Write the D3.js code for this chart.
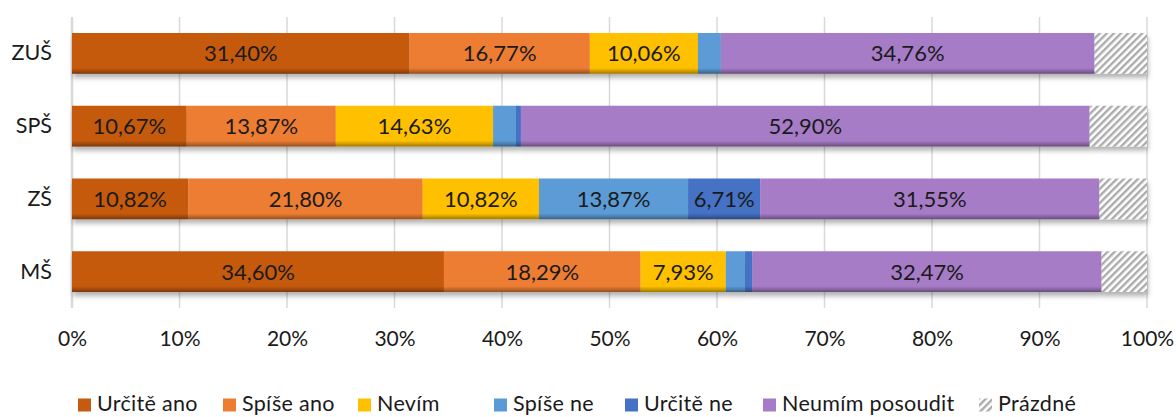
<!DOCTYPE html>
<html>
<head>
<meta charset="utf-8">
<script src="https://cdn.jsdelivr.net/npm/d3@7"></script>
<style>
  html, body { margin: 0; padding: 0; background: #fff; }
  svg { display: block; font-family: Lato, "Open Sans", sans-serif; }
</style>
</head>
<body>
<svg id="chart" width="1176" height="417"></svg>
<script>
// School types, top to bottom
const categories = ["ZUŠ", "SPŠ", "ZŠ", "MŠ"];

// Answer categories in stacking order
const seriesNames = ["Určitě ano", "Spíše ano", "Nevím", "Spíše ne", "Určitě ne", "Neumím posoudit", "Prázdné"];

// Share of answers (%) per school type, in the order of `categories`
const urciteAno   = [31.40, 10.67, 10.82, 34.60];
const spiseAno    = [16.77, 13.87, 21.80, 18.29];
const nevim       = [10.06, 14.63, 10.82,  7.93];
const spiseNe     = [ 2.13,  2.13, 13.87,  1.77];
const urciteNe    = [ 0.00,  0.46,  6.71,  0.71];
const neumimPos   = [34.76, 52.90, 31.55, 32.47];
const prazdne     = [ 4.88,  5.34,  4.43,  4.23];

const tickValues = [0, 10, 20, 30, 40, 50, 60, 70, 80, 90, 100];

const seriesValues = [urciteAno, spiseAno, nevim, spiseNe, urciteNe, neumimPos, prazdne];
const colors = ["#C55A11", "#ED7D31", "#FFC000", "#5B9BD5", "#4472C4", "#A67BC7", "url(#hatch)"];

const rows = categories.map((c, i) => {
  const o = { cat: c };
  seriesNames.forEach((s, k) => { o[s] = seriesValues[k][i]; });
  return o;
});

const svg = d3.select("#chart");
const margin = { left: 72, right: 29, top: 17, bottom: 109 };
const W = 1176, H = 417;

const x = d3.scaleLinear().domain([0, 100]).range([margin.left, W - margin.right]);
const y = d3.scaleBand().domain(categories).range([margin.top, H - margin.bottom]).paddingInner(0.44).paddingOuter(0.22);

const defs = svg.append("defs");

// Grey diagonal hatch for empty answers
const pat = defs.append("pattern")
  .attr("id", "hatch").attr("patternUnits", "userSpaceOnUse")
  .attr("width", 5).attr("height", 5)
  .attr("patternTransform", "rotate(45)");
pat.append("rect").attr("width", 5).attr("height", 5).attr("fill", "#fff");
pat.append("rect").attr("width", 2.4).attr("height", 5).attr("fill", "#ABABAB");

// Darkened lower edge of every bar
const grad = defs.append("linearGradient").attr("id", "bevel").attr("x1", 0).attr("y1", 0).attr("x2", 0).attr("y2", 1);
grad.append("stop").attr("offset", "0.86").attr("stop-color", "#000").attr("stop-opacity", 0);
grad.append("stop").attr("offset", "0.93").attr("stop-color", "#000").attr("stop-opacity", 0.18);
grad.append("stop").attr("offset", "1").attr("stop-color", "#000").attr("stop-opacity", 0.38);

// Soft shadow under the bars
const shadow = defs.append("filter").attr("id", "shadow")
  .attr("x", "-2%").attr("y", "-20%").attr("width", "104%").attr("height", "160%");
shadow.append("feDropShadow").attr("dx", 1).attr("dy", 4).attr("stdDeviation", 2.4)
  .attr("flood-color", "#000").attr("flood-opacity", 0.3);

// Vertical gridlines
svg.append("g").selectAll("line").data(tickValues).join("line")
  .attr("x1", d => x(d)).attr("x2", d => x(d))
  .attr("y1", margin.top).attr("y2", H - margin.bottom)
  .attr("stroke", "#D9D9D9").attr("stroke-width", d => d === 0 ? 2.5 : 1.5);

// X axis labels
const xAxis = d3.axisBottom(x).tickValues(tickValues).tickFormat(d => d + "%").tickSize(0).tickPadding(0);
const gx = svg.append("g").attr("transform", `translate(0, 346)`).call(xAxis);
gx.select(".domain").remove();
gx.selectAll("text").attr("font-size", 21).attr("fill", "#1a1a1a")
  .attr("font-family", "Lato, sans-serif").attr("y", 0).attr("dy", 0);

// Y axis labels
const yAxis = d3.axisLeft(y).tickSize(0).tickPadding(20);
const gy = svg.append("g").attr("transform", `translate(${margin.left}, 0)`).call(yAxis);
gy.select(".domain").remove();
gy.selectAll("text").attr("font-size", 21.5).attr("fill", "#1a1a1a").attr("font-family", "Lato, sans-serif");

// Stacked bars
const stacked = d3.stack().keys(seriesNames)(rows);
const fmt = v => v.toFixed(2).replace(".", ",") + "%";

const rowG = svg.append("g").selectAll("g").data(categories).join("g")
  .attr("filter", "url(#shadow)");

rowG.each(function(cat, i) {
  const g = d3.select(this);
  stacked.forEach((layer, k) => {
    const d = layer[i];
    if (d[1] - d[0] <= 0) return;
    g.append("rect")
      .attr("x", x(d[0])).attr("width", x(d[1]) - x(d[0]))
      .attr("y", y(cat)).attr("height", y.bandwidth())
      .attr("fill", colors[k]);
  });
  // bevel overlay over the coloured segments
  const lastColoured = stacked[stacked.length - 2][i][1];
  g.append("rect")
    .attr("x", x(0)).attr("width", x(lastColoured) - x(0))
    .attr("y", y(cat)).attr("height", y.bandwidth())
    .attr("fill", "url(#bevel)");
});

// Value labels on segments large enough to hold them
const labels = svg.append("g");
stacked.forEach((layer, k) => {
  if (seriesNames[k] === "Prázdné") return;
  layer.forEach((d, i) => {
    const v = d[1] - d[0];
    if (v < 5) return;
    labels.append("text")
      .attr("x", x((d[0] + d[1]) / 2))
      .attr("y", y(categories[i]) + y.bandwidth() / 2)
      .attr("text-anchor", "middle").attr("dy", "0.36em")
      .attr("font-size", 22).attr("fill", "#1a1a1a")
      .text(fmt(v));
  });
});

// Legend
const legendX = [78, 223, 358, 494, 625, 763, 979];
const legend = svg.append("g").attr("transform", `translate(0, 411)`);
seriesNames.forEach((s, k) => {
  const lg = legend.append("g").attr("transform", `translate(${legendX[k]}, 0)`);
  lg.append("rect").attr("x", 0).attr("y", -12.5).attr("width", 13).attr("height", 13).attr("fill", colors[k]);
  lg.append("text").attr("x", 19).attr("y", 0)
    .attr("font-size", 21.5).attr("letter-spacing", 0.3).attr("fill", "#1a1a1a").text(s);
});
</script>
</body>
</html>
